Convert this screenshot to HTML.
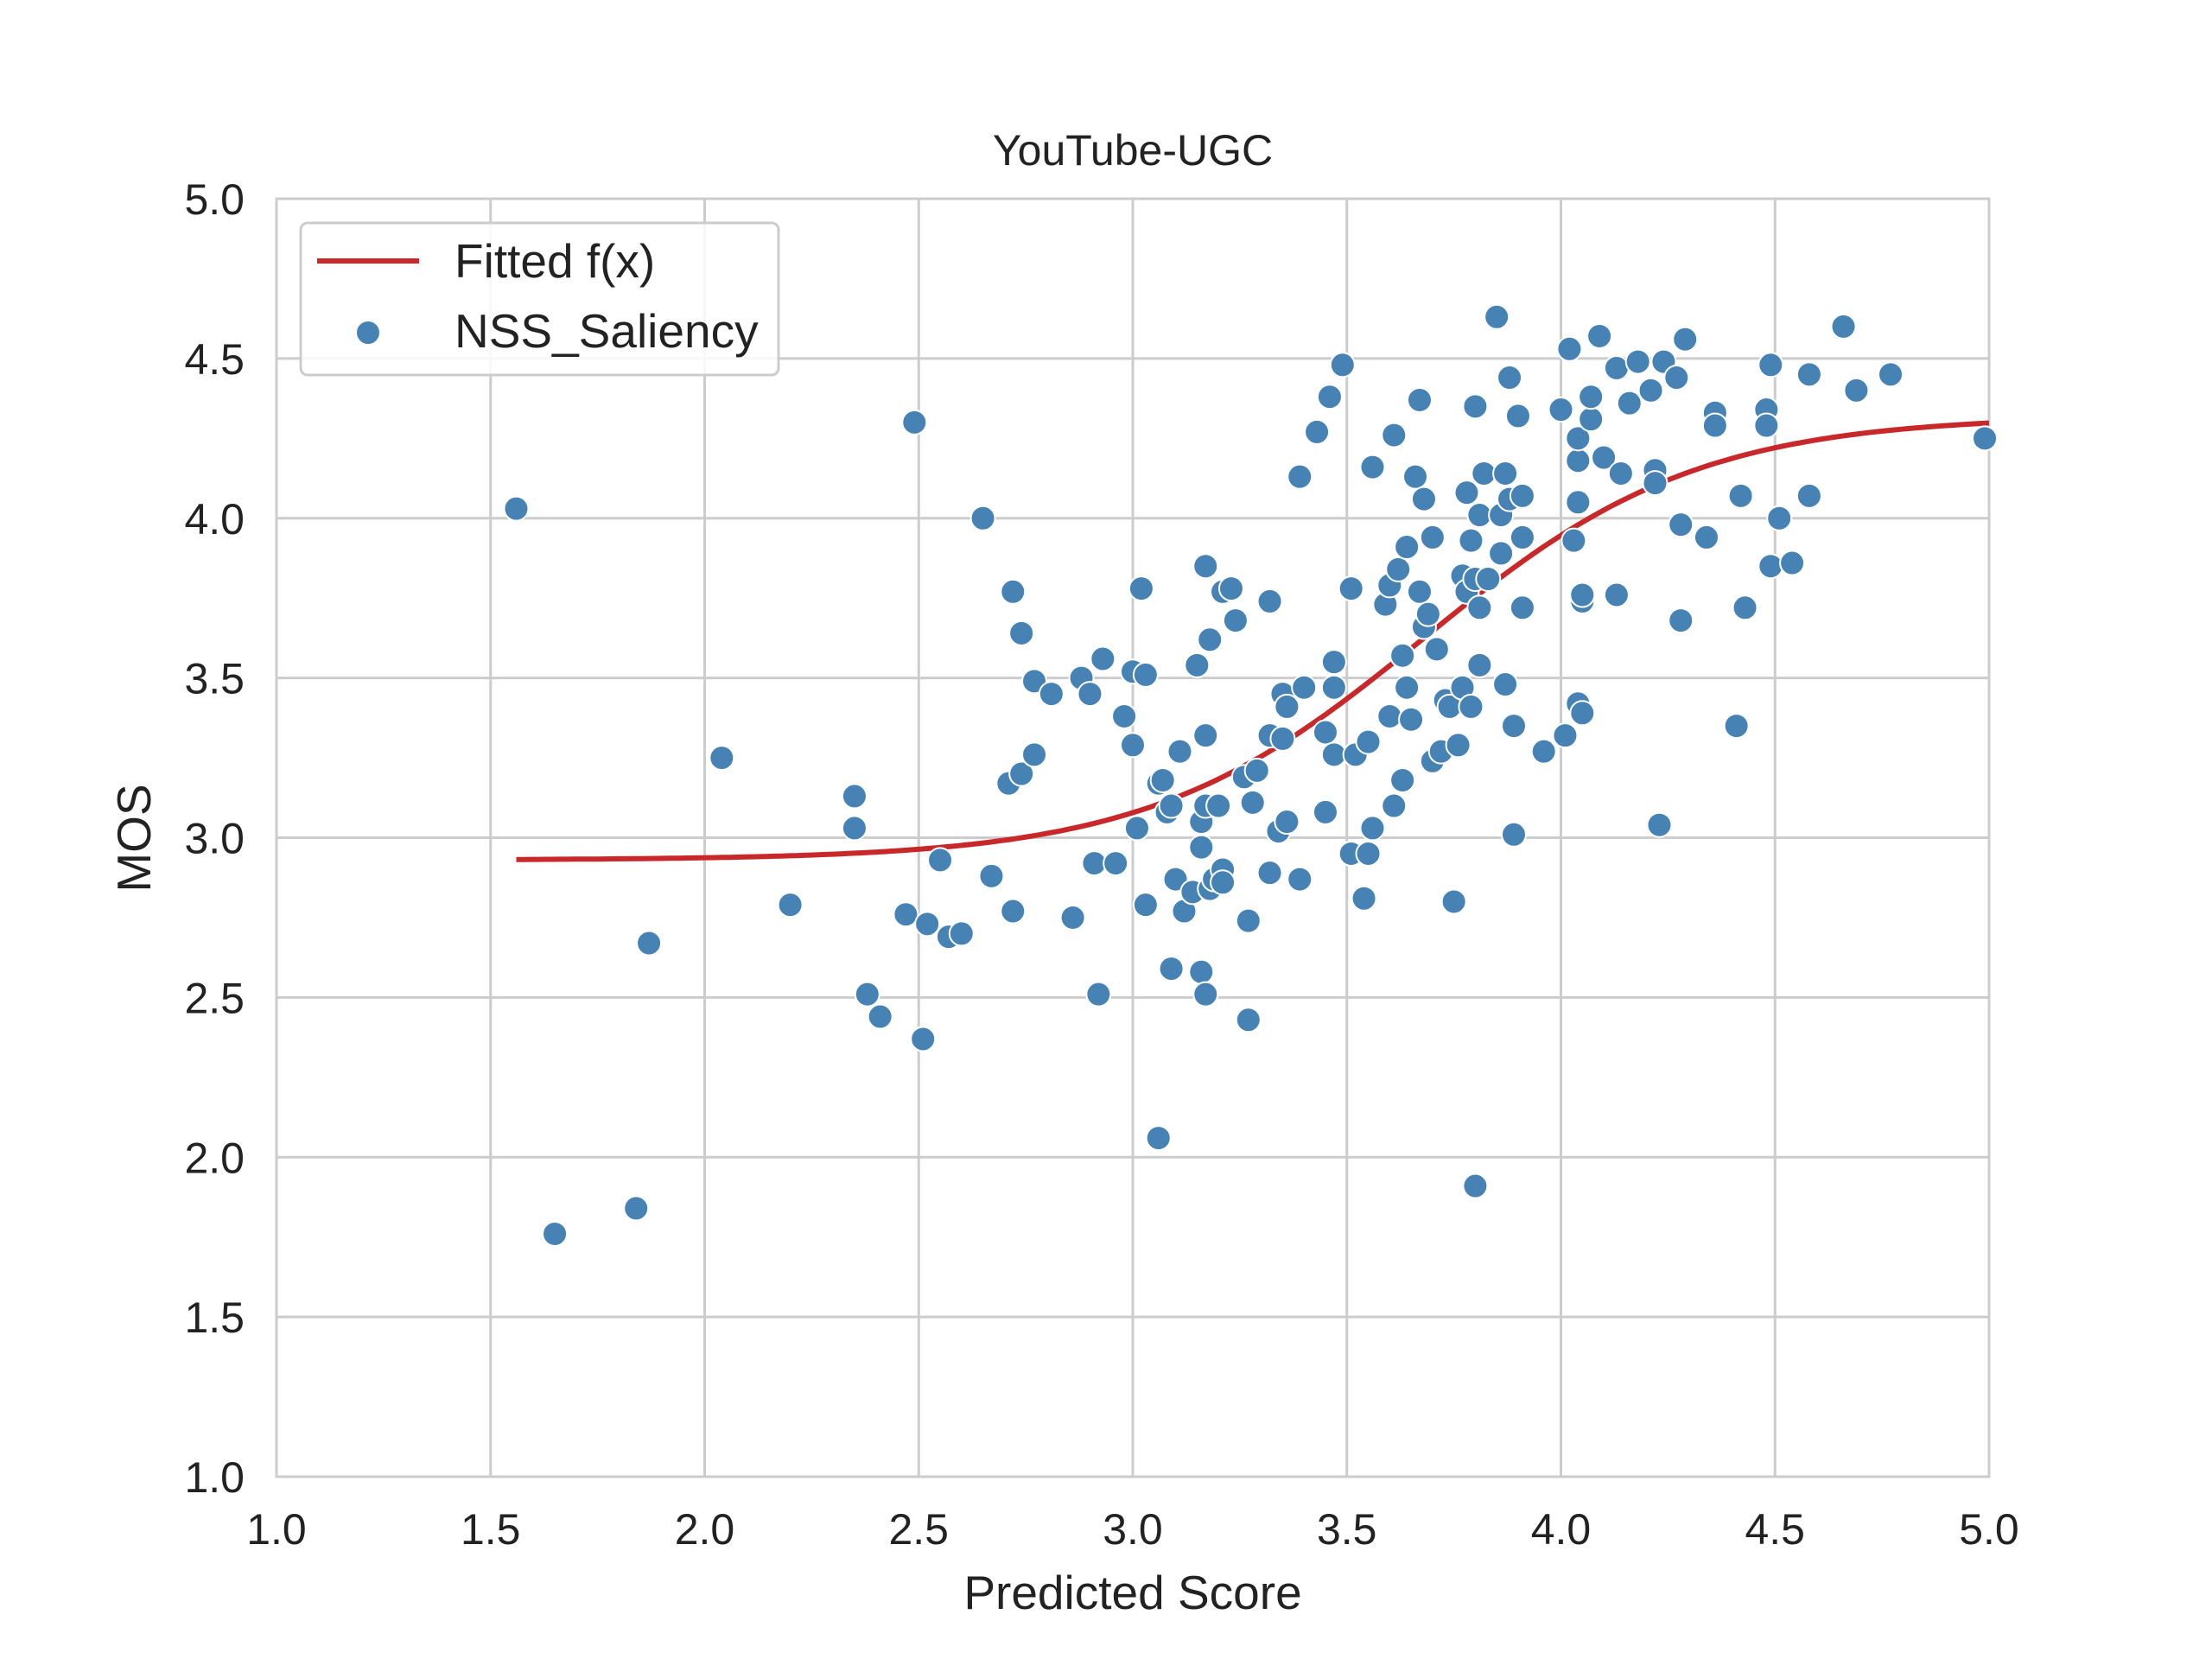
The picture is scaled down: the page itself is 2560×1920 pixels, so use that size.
<!DOCTYPE html>
<html><head><meta charset="utf-8"><style>
html,body{margin:0;padding:0;background:#fff;}
svg{display:block;font-family:"Liberation Sans",Arial,sans-serif;}
</style></head><body>
<svg id="chart" width="2560" height="1920" viewBox="0 0 2560 1920">
<g id="grid"></g>
<g id="xticks"></g>
<g id="yticks"></g>
<g id="curve"></g>
<g id="points"></g>
<text x="1311" y="191" font-size="50" text-anchor="middle" fill="#222">YouTube-UGC</text>
<text x="1311" y="1862" font-size="55" text-anchor="middle" fill="#222">Predicted Score</text>
<text x="0" y="0" font-size="55" text-anchor="middle" fill="#222" transform="translate(174,970) rotate(-90)">MOS</text>
<g>
<rect x="348" y="258" width="553" height="176" rx="8" fill="#fff" fill-opacity="0.85" stroke="#cccccc" stroke-width="3"/>
<g>
<line x1="367" y1="302" x2="485" y2="302" stroke="#c8282a" stroke-width="6"/>
<text x="526" y="321" font-size="55" fill="#222">Fitted f(x)</text></g>
<g>
<circle cx="426" cy="385" r="14" fill="#4682b4" stroke="#fff" stroke-width="2"/>
<text x="526" y="402" font-size="55" fill="#222">NSS_Saliency</text></g>
</g>
</svg>
<script>
const xTicks=[1.0,1.5,2.0,2.5,3.0,3.5,4.0,4.5,5.0];
const yTicks=[1.0,1.5,2.0,2.5,3.0,3.5,4.0,4.5,5.0];
const xVals=[1.56,1.65,1.84,1.87,2.04,2.20,2.35,2.35,2.38,2.41,2.47,2.49,2.51,2.52,2.55,2.57,2.60,2.65,2.67,2.71,2.72,2.72,2.74,2.74,2.77,2.77,2.81,2.86,2.88,2.90,2.91,2.92,2.93,2.96,2.98,3.00,3.00,3.01,3.02,3.03,3.03,3.06,3.06,3.07,3.08,3.09,3.09,3.10,3.11,3.12,3.14,3.15,3.16,3.16,3.16,3.17,3.17,3.17,3.17,3.18,3.18,3.19,3.20,3.21,3.21,3.21,3.23,3.24,3.26,3.27,3.27,3.28,3.29,3.32,3.32,3.32,3.34,3.35,3.35,3.36,3.36,3.39,3.39,3.40,3.43,3.45,3.45,3.46,3.47,3.47,3.47,3.49,3.51,3.51,3.52,3.54,3.55,3.55,3.56,3.56,3.59,3.60,3.60,3.61,3.61,3.62,3.63,3.63,3.64,3.64,3.65,3.66,3.67,3.67,3.68,3.68,3.69,3.70,3.70,3.71,3.72,3.73,3.74,3.75,3.76,3.77,3.77,3.78,3.78,3.79,3.79,3.80,3.80,3.80,3.81,3.81,3.81,3.82,3.83,3.85,3.86,3.86,3.87,3.87,3.88,3.88,3.89,3.89,3.90,3.91,3.91,3.91,3.96,4.00,4.01,4.02,4.03,4.04,4.04,4.04,4.04,4.05,4.05,4.05,4.07,4.07,4.09,4.10,4.13,4.13,4.14,4.16,4.18,4.21,4.22,4.22,4.23,4.24,4.27,4.28,4.28,4.29,4.34,4.36,4.36,4.41,4.42,4.43,4.48,4.48,4.49,4.49,4.51,4.54,4.58,4.58,4.66,4.69,4.77,4.99];
const yVals=[4.03,1.76,1.84,2.67,3.25,2.79,3.13,3.03,2.51,2.44,2.76,4.30,2.37,2.73,2.93,2.69,2.70,4.00,2.88,3.17,2.77,3.77,3.20,3.64,3.49,3.26,3.45,2.75,3.50,3.45,2.92,2.51,3.56,2.92,3.38,3.52,3.29,3.03,3.78,3.51,2.79,3.17,2.06,3.18,3.08,3.10,2.59,2.87,3.27,2.77,2.83,3.54,3.05,2.58,2.97,2.51,3.32,3.10,3.85,3.62,2.84,2.87,3.10,2.90,2.86,3.77,3.78,3.68,3.19,2.74,2.43,3.11,3.21,3.74,2.89,3.32,3.02,3.45,3.31,3.05,3.41,4.13,2.87,3.47,4.27,3.08,3.33,4.38,3.26,3.55,3.47,4.48,3.78,2.95,3.26,2.81,2.95,3.30,4.16,3.03,3.73,3.38,3.79,3.10,4.26,3.84,3.18,3.57,3.91,3.47,3.37,4.13,3.77,4.37,4.06,3.66,3.70,3.94,3.24,3.59,3.27,3.43,3.41,2.80,3.29,3.82,3.47,4.08,3.77,3.93,3.41,4.35,1.91,3.81,3.72,3.54,4.01,4.14,3.81,4.63,3.89,4.01,3.48,4.14,4.06,4.44,3.01,3.35,4.32,3.72,4.07,3.94,3.27,4.34,3.32,4.53,3.93,3.42,4.18,4.25,4.05,3.74,3.76,3.39,4.31,4.38,4.57,4.19,4.47,3.76,4.14,4.36,4.49,4.40,4.15,4.11,3.04,4.49,4.44,3.98,3.68,4.56,3.94,4.33,4.29,3.35,4.07,3.72,4.34,4.29,4.48,3.85,4.00,3.86,4.45,4.07,4.60,4.40,4.45,4.25];
const fitLow=2.93, fitHigh=4.32, fitMid=3.68, fitScale=0.32, fitStart=1.56, fitEnd=5.0;

const L=320,R=2302,T=230,B=1709;
const sx=v=>L+(v-1)/(5-1)*(R-L);
const sy=v=>B-(v-1)/(5-1)*(B-T);
const NS="http://www.w3.org/2000/svg";
function mk(tag,attrs,parent){const e=document.createElementNS(NS,tag);for(const k in attrs)e.setAttribute(k,attrs[k]);parent.appendChild(e);return e;}
const grid=document.getElementById('grid'),xt=document.getElementById('xticks'),yt=document.getElementById('yticks');
xTicks.forEach(t=>{
 const l=mk('line',{x1:sx(t),x2:sx(t),y1:T,y2:B,stroke:'#cccccc','stroke-width':3},grid);
 
 
 const tx=mk('text',{x:sx(t),y:1787,'font-size':50,'text-anchor':'middle',fill:'#222'},xt);
 tx.textContent=t.toFixed(1);
 
 
});
yTicks.forEach(t=>{
 const l=mk('line',{x1:L,x2:R,y1:sy(t),y2:sy(t),stroke:'#cccccc','stroke-width':3},grid);
 
 
 const tx=mk('text',{x:283,y:sy(t)+18,'font-size':50,'text-anchor':'end',fill:'#222'},yt);
 tx.textContent=t.toFixed(1);
 
 
});
const fr=mk('rect',{x:L,y:T,width:R-L,height:B-T,fill:'none',stroke:'#cccccc','stroke-width':3},grid);


const f=x=>fitLow+(fitHigh-fitLow)/(1+Math.exp(-(x-fitMid)/fitScale));
let d='';
for(let i=0;i<=200;i++){const x=fitStart+(fitEnd-fitStart)*i/200;d+=(i?'L':'M')+sx(x).toFixed(1)+','+sy(f(x)).toFixed(1);}
const p=mk('path',{d:d,fill:'none',stroke:'#c8282a','stroke-width':6},document.getElementById('curve'));


const pg=document.getElementById('points');
xVals.forEach((x,i)=>{
 const c=mk('circle',{cx:sx(x),cy:sy(yVals[i]),r:14,fill:'#4682b4',stroke:'#fff','stroke-width':2},pg);
 
 
});
</script>
</body></html>
